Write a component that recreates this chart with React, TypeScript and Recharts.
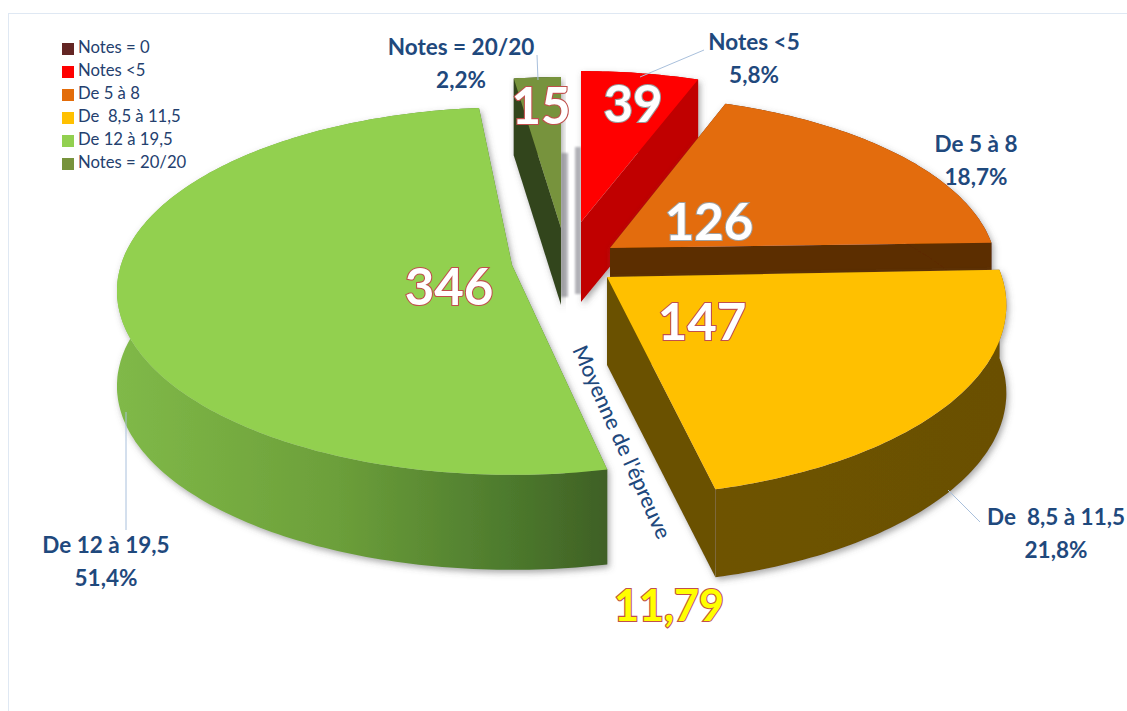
import { Legend, Pie, PieChart } from "recharts";

const categories = ["Notes = 0", "Notes <5", "De 5 à 8", "De  8,5 à 11,5", "De 12 à 19,5", "Notes = 20/20"];
const counts = [0, 39, 126, 147, 346, 15];
const colors = ["#632523", "#ff0000", "#e36c09", "#ffc000", "#92d050", "#77933c"];

// 3D look of each slice
const wallFill = ["#400", "#c00000", "#5c2d00", "url(#yellowWall)", "url(#greenWall)", "#33451c"];
const cutFill = ["#400", "#c00000", "#5c2d00", "#6b5100", "#4a7029", "#33451c"];
const wallHeight = [0, 80, 85, 88, 95, 77];
const shiftX = [0, 69, 98, 95, 0, 49];
const shiftY = [0, -43, -17, 12, 0, -37];
const scaleX = [1, 0.96, 0.97, 1.0, 0.99, 0.97];
const scaleY = [1, 0.97, 0.98, 1.06, 1.02, 0.97];
const turnStart = [0, 0, -1, -0.5, 1, 0];
const turnEnd = [0, -0.5, 0, -0.5, 2.5, 0];
const edgeShadow = [0, -6, 0, 0, 0, 7];

// label places
const countPos = [[0, 0], [633, 122], [709, 240], [702, 340], [449, 305], [541, 124]];
const countEdge = ["#999", "#9a9a9a", "#a0a0a0", "#c0504d", "#c0504d", "#c0504d"];
const namePos = [[0, 0], [754, 50], [976, 152], [1056, 525], [106, 553], [461, 55]];
const leaders = [null, [640, 77, 704, 50], null, [948, 490, 980, 522], [126, 412, 126, 530], [538, 80, 537, 55]];

const data = categories.map((name, i) => ({ name, value: counts[i], fill: colors[i] }));

const RY_RATIO = 0.447;
const PERSPECTIVE = 0.139;

function project(cx: number, cy: number, r: number, clock: number, sx: number, sy: number) {
  const a = (clock * Math.PI) / 180;
  const u = sx * Math.sin(a);
  const v = -sy * Math.cos(a);
  const w = 1 - PERSPECTIVE * v;
  return [cx + (r * u) / w, cy + (r * RY_RATIO * v) / w];
}

const toPath = (pts: number[][]) =>
  "M" + pts.map((p) => `${p[0].toFixed(1)},${p[1].toFixed(1)}`).join("L") + "Z";

function Slice3D(props: any) {
  const { cx, cy, outerRadius, startAngle, endAngle, index, fill } = props;
  const i = index ?? 0;
  if (counts[i] === 0) return <g />;
  const x0 = cx + shiftX[i];
  const y0 = cy + shiftY[i];
  const h = wallHeight[i];
  const from = 90 - startAngle + turnStart[i];
  const to = 90 - endAngle + turnEnd[i];
  const arc: number[][] = [];
  const steps = Math.max(4, Math.ceil(to - from));
  for (let k = 0; k <= steps; k++) {
    arc.push(project(x0, y0, outerRadius, from + ((to - from) * k) / steps, scaleX[i], scaleY[i]));
  }
  const down = (p: number[]) => [p[0], p[1] + h];
  const apex = [x0, y0];
  const first = arc[0];
  const last = arc[arc.length - 1];
  const sw = edgeShadow[i];
  return (
    <g>
      {sw !== 0 && (
        <path
          d={toPath([[x0, y0 - 75], [x0 + sw, y0 - 75], [x0 + sw, y0 + h - 8], [x0, y0 + h - 8]])}
          fill="#b5b5bb"
          filter="url(#softBlur)"
        />
      )}
      <g filter="url(#sliceShadow)">
        <path d={toPath([apex, first, down(first), down(apex)])} fill={cutFill[i]} />
        <path d={toPath([apex, last, down(last), down(apex)])} fill={cutFill[i]} />
        <path d={toPath([...arc, ...arc.map(down).reverse()])} fill={wallFill[i]} />
        <path d={toPath([apex, ...arc])} fill={fill} />
      </g>
    </g>
  );
}

function SliceLabel(props: any) {
  const { index, value, percent, name } = props;
  if (!value) return <g />;
  const pct = (percent * 100).toFixed(1).replace(".", ",") + "%";
  const line = leaders[index];
  return (
    <g fontFamily="Lato" fontWeight={700} textAnchor="middle">
      {line && <line x1={line[0]} y1={line[1]} x2={line[2]} y2={line[3]} stroke="#a9c0dc" strokeWidth={1} />}
      <text
        x={countPos[index][0]}
        y={countPos[index][1]}
        fontSize={51}
        fill="#fff"
        stroke={countEdge[index]}
        strokeWidth={2.2}
        style={{ paintOrder: "stroke" }}
      >
        {value}
      </text>
      <text x={namePos[index][0]} y={namePos[index][1]} fontSize={22.5} fill="#1f497d" style={{ whiteSpace: "pre" }}>
        {name}
      </text>
      <text x={namePos[index][0]} y={namePos[index][1] + 33} fontSize={22.5} fill="#1f497d">
        {pct}
      </text>
    </g>
  );
}

export default function App() {
  return (
    <div style={{ position: "absolute", left: 0, top: 0, width: 1127, height: 711, background: "#fff" }}>
      <div
        style={{
          position: "absolute",
          left: 8,
          top: 13,
          right: 0,
          bottom: 0,
          borderTop: "1px solid #dfe8f3",
          borderLeft: "1px solid #dfe8f3",
        }}
      />
      <PieChart width={1127} height={711} margin={{ top: 0, right: 0, bottom: 0, left: 0 }} style={{ position: "absolute", left: 0, top: 0 }}>
        <defs>
          <linearGradient id="greenWall" gradientUnits="userSpaceOnUse" x1={117} x2={607} y1={0} y2={0}>
            <stop offset="0" stopColor="#80b948" />
            <stop offset="0.45" stopColor="#6c9f3a" />
            <stop offset="0.8" stopColor="#4d7a2d" />
            <stop offset="1" stopColor="#3f6025" />
          </linearGradient>
          <linearGradient id="yellowWall" gradientUnits="userSpaceOnUse" x1={718} x2={1005} y1={0} y2={0}>
            <stop offset="0" stopColor="#6e5300" />
            <stop offset="1" stopColor="#6a5000" />
          </linearGradient>
          <filter id="sliceShadow" x="-10%" y="-10%" width="120%" height="120%">
            <feDropShadow dx={2} dy={3} stdDeviation={3} floodColor="#555" floodOpacity={0.5} />
          </filter>
          <filter id="softBlur" x="-100%" y="-10%" width="300%" height="120%">
            <feGaussianBlur stdDeviation={1} />
          </filter>
        </defs>
        <Pie
          data={data}
          dataKey="value"
          nameKey="name"
          cx={512}
          cy={265}
          outerRadius={395}
          startAngle={90}
          endAngle={-270}
          stroke="none"
          shape={Slice3D}
          label={SliceLabel}
          labelLine={false}
          isAnimationActive={false}
        />
        <Legend
          layout="vertical"
          align="center"
          verticalAlign="middle"
          iconType="square"
          iconSize={12}
          itemSorter={null}
          wrapperStyle={{ left: 62, top: 36, width: 170, fontFamily: "Lato", fontSize: 16.7, lineHeight: "23px" }}
          formatter={(v: string) => <span style={{ color: "#24406e", whiteSpace: "pre" }}>{v}</span>}
        />
        <text
          x={620}
          y={443}
          fontFamily="Lato"
          fontSize={21.5}
          fontWeight={500}
          fill="#1f497d"
          textAnchor="middle"
          dominantBaseline="middle"
          transform="rotate(65.8 620 443)"
        >
          Moyenne de l'épreuve
        </text>
        <text
          x={669}
          y={621}
          fontFamily="Lato"
          fontWeight={700}
          fontSize={43}
          fill="#ffff00"
          stroke="#c0504d"
          strokeWidth={2.2}
          textAnchor="middle"
          style={{ paintOrder: "stroke" }}
        >
          11,79
        </text>
      </PieChart>
    </div>
  );
}
